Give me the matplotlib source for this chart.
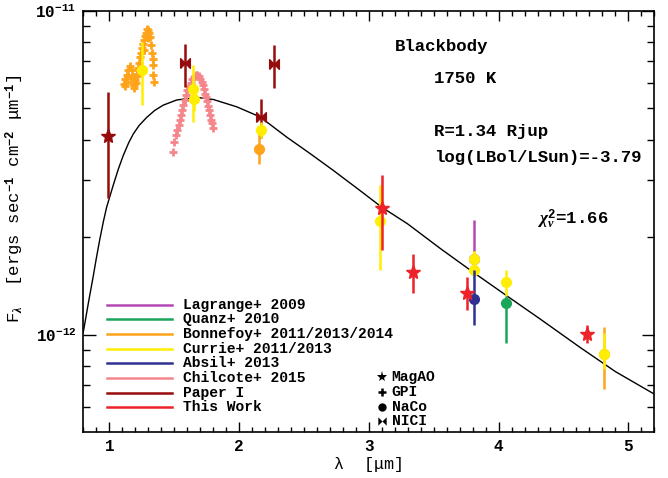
import numpy as np
import matplotlib.pyplot as plt
from matplotlib.path import Path
from matplotlib.ticker import MultipleLocator, FixedLocator, NullFormatter, FuncFormatter

plt.rcParams.update({
    "font.family": ["Liberation Mono", "DejaVu Sans"],
    "font.weight": "bold",
    "mathtext.fontset": "custom",
    "mathtext.rm": "Liberation Mono:bold",
    "mathtext.bf": "Liberation Mono:bold",
    "mathtext.it": "Liberation Serif:italic",
})

# all fluxes in units of 1e-12 ergs/s/cm^2/um
# blackbody curve
bb_wave = [0.80, 0.84, 0.877, 0.90, 0.928, 0.955, 0.98, 1.031, 1.07, 1.108, 1.15, 1.185, 1.23,
           1.288, 1.35, 1.416, 1.519, 1.674, 1.802, 1.982, 2.162, 2.367, 2.547, 2.726,
           2.932, 3.099, 3.3, 3.549, 3.805, 4.063, 4.319, 4.627, 4.9, 5.2]
bb_flux = [1.02, 1.26, 1.52, 1.72, 1.98, 2.24, 2.48, 2.90, 3.25, 3.58, 3.92, 4.17, 4.43,
           4.69, 4.93, 5.12, 5.31, 5.41, 5.33, 5.06, 4.71, 4.08, 3.63, 3.22,
           2.79, 2.48, 2.20, 1.85, 1.56, 1.32, 1.12, 0.915, 0.77, 0.656]

# Bonnefoy J-band spectrum (crosses)
bon_spec_wave = [1.113, 1.121, 1.134, 1.146, 1.160, 1.173, 1.185, 1.193, 1.200, 1.211, 1.219,
                 1.227, 1.234, 1.242, 1.250, 1.257, 1.265, 1.273, 1.281, 1.288, 1.296, 1.304,
                 1.311, 1.319, 1.327, 1.334, 1.339, 1.347,
                 1.12, 1.14, 1.165, 1.18, 1.19, 1.205, 1.215, 1.29, 1.30, 1.27, 1.335]
bon_spec_flux = [5.97, 6.15, 6.34, 6.58, 6.76, 6.58, 6.27, 5.90, 6.12, 6.41, 6.65,
                 6.92, 7.19, 7.43, 7.67, 7.91, 8.13, 8.38, 8.57, 8.77, 8.73, 8.57,
                 8.34, 7.85, 7.40, 6.81, 6.34, 6.04,
                 5.85, 6.05, 6.20, 5.95, 5.80, 6.00, 6.30, 8.45, 8.25, 7.60, 7.10]

# Chilcote H-band spectrum (crosses)
chil_wave = [1.493, 1.499, 1.514, 1.524, 1.535, 1.545, 1.553, 1.560, 1.570, 1.581, 1.591,
             1.601, 1.614, 1.627, 1.640, 1.653, 1.666, 1.678, 1.691, 1.701, 1.712, 1.720,
             1.728, 1.735, 1.743, 1.751, 1.758, 1.766, 1.774, 1.781, 1.789, 1.797]
chil_flux = [3.67, 3.94, 4.13, 4.29, 4.44, 4.60, 4.76, 4.94, 5.12, 5.31, 5.50,
             5.70, 5.86, 6.00, 6.15, 6.27, 6.34, 6.35, 6.30, 6.18, 6.03, 5.89,
             5.73, 5.56, 5.41, 5.26, 5.09, 4.94, 4.79, 4.62, 4.50, 4.34]

# photometry: wavelength, flux, lower end, upper end
bon_wave = [2.154, 4.815]
bon_flux = [3.76, 0.873]
bon_lo = [3.38, 0.681]
bon_hi = [4.30, 1.057]

lag_wave = [3.813]
lag_flux = [1.72]
lag_lo = [1.55]
lag_hi = [2.27]

cur_wave = [1.254, 1.647, 1.653, 2.169, 3.086, 3.813, 3.813, 4.055, 4.815]
cur_flux = [6.58, 5.73, 5.33, 4.29, 2.24, 1.71, 1.58, 1.46, 0.873]
cur_lo = [5.12, 4.55, 4.90, 4.05, 1.58, 1.52, 1.52, 1.32, 0.787]
cur_hi = [8.04, 6.81, 5.75, 4.55, 2.90, 1.82, 1.82, 1.58, 1.01]

abs_wave = [3.813]
abs_flux = [1.29]
abs_lo = [1.07]
abs_hi = [1.58]

qua_wave = [4.055]
qua_flux = [1.25]
qua_lo = [0.942]
qua_hi = [1.32]

p1_star_wave = [0.99]
p1_star_flux = [4.11]
p1_star_lo = [2.64]
p1_star_hi = [5.62]

p1_nici_wave = [1.583, 2.169, 2.269]
p1_nici_flux = [6.89, 4.71, 6.86]
p1_nici_lo = [5.81, 4.04, 5.79]
p1_nici_hi = [7.91, 5.34, 7.85]

tw_wave = [3.099, 3.343, 3.755, 4.682]
tw_flux = [2.47, 1.56, 1.35, 1.007]
tw_lo = [1.83, 1.35, 1.19, 0.942]
tw_hi = [3.11, 1.78, 1.51, 1.074]

y_major = [1e-12, 1e-11]
y_minor = [6e-13, 7e-13, 8e-13, 9e-13] + [k * 1e-12 for k in range(2, 10)]

legend_names = ['Lagrange+ 2009', 'Quanz+ 2010', 'Bonnefoy+ 2011/2013/2014', 'Currie+ 2011/2013',
                'Absil+ 2013', 'Chilcote+ 2015', 'Paper I', 'This Work']
c_lag, c_qua, c_bon, c_cur = '#b548b5', '#1aa55a', '#ffa31a', '#ffee00'
c_abs, c_chil, c_p1, c_tw = '#2e3192', '#f4868c', '#960c0c', '#ee2229'
legend_colors = [c_lag, c_qua, c_bon, c_cur, c_abs, c_chil, c_p1, c_tw]

inst_names = ['MagAO', 'GPI', 'NaCo', 'NICI']

bowtie = Path([(-1, -1), (-1, 1), (0, 0), (1, 1), (1, -1), (0, 0), (-1, -1)])
inst_markers = ['*', '+', 'o', bowtie]


def point(ax, w, f, lo, hi, color, marker, ms):
    f = np.array(f) * 1e-12
    lo = np.array(lo) * 1e-12
    hi = np.array(hi) * 1e-12
    ax.errorbar(w, f, yerr=[f - lo, hi - f], fmt='none', ecolor=color, elinewidth=1.8, capsize=0)
    ax.plot(w, f, linestyle='None', marker=marker, color=color, ms=ms, mec=color)


def pow10(v, pos):
    return r'$10^{%d}$' % int(round(np.log10(v)))


fig = plt.figure(figsize=(6.68, 4.78), dpi=100)
ax = fig.add_axes([0.1247, 0.0956, 0.8548, 0.8814])

ax.plot(bb_wave, np.array(bb_flux) * 1e-12, color='k', lw=1.0, zorder=1)

ax.plot(bon_spec_wave, np.array(bon_spec_flux) * 1e-12, linestyle='None', marker='+',
        ms=6, color=c_bon, mew=2)
ax.plot(chil_wave, np.array(chil_flux) * 1e-12, linestyle='None', marker='+',
        ms=6, color=c_chil, mew=2)

point(ax, bon_wave, bon_flux, bon_lo, bon_hi, c_bon, 'o', 7)
point(ax, lag_wave, lag_flux, lag_lo, lag_hi, c_lag, 'o', 7)
point(ax, p1_nici_wave, p1_nici_flux, p1_nici_lo, p1_nici_hi, c_p1, bowtie, 7)
point(ax, cur_wave, cur_flux, cur_lo, cur_hi, c_cur, 'o', 7)
point(ax, abs_wave, abs_flux, abs_lo, abs_hi, c_abs, 'o', 7)
point(ax, qua_wave, qua_flux, qua_lo, qua_hi, c_qua, 'o', 7)
point(ax, p1_star_wave, p1_star_flux, p1_star_lo, p1_star_hi, c_p1, '*', 10)
point(ax, tw_wave, tw_flux, tw_lo, tw_hi, c_tw, '*', 10)

ax.set_xlim(0.8, 5.2)
ax.set_yscale('log')
ax.set_ylim(5e-13, 1e-11)

ax.xaxis.set_major_locator(MultipleLocator(1))
ax.xaxis.set_minor_locator(MultipleLocator(0.1))
ax.yaxis.set_major_locator(FixedLocator(y_major))
ax.yaxis.set_major_formatter(FuncFormatter(pow10))
ax.yaxis.set_minor_locator(FixedLocator(y_minor))
ax.yaxis.set_minor_formatter(NullFormatter())
ax.tick_params(which='both', direction='in', top=True, right=True, width=1.0)
ax.tick_params(axis='x', which='major', length=7, pad=5, labelsize=11.5)
ax.tick_params(axis='x', which='minor', length=3.5)
ax.tick_params(axis='y', which='major', length=9, pad=5, labelsize=11.5)
ax.tick_params(axis='y', which='minor', length=5)
for s in ax.spines.values():
    s.set_linewidth(1.2)

ax.set_xlabel('λ  [μm]', fontsize=12, labelpad=2)
ax.set_ylabel(r'F$_\lambda$  [ergs sec$^{-1}$ cm$^{-2}$ μm$^{-1}$]', fontsize=12.5)
ax.yaxis.set_label_coords(-0.1, 0.554)

# text annotations
ax.text(0.546, 0.915, 'Blackbody', transform=ax.transAxes, fontsize=12.5, va='center')
ax.text(0.614, 0.840, '1750 K', transform=ax.transAxes, fontsize=12.5, va='center')
ax.text(0.614, 0.7135, 'R=1.34 Rjup', transform=ax.transAxes, fontsize=12.5, va='center')
ax.text(0.614, 0.652, 'log(LBol/LSun)=-3.79', transform=ax.transAxes, fontsize=12.5, va='center')
ax.text(0.794, 0.5056, r'$\chi^2_\nu$=1.66', transform=ax.transAxes, fontsize=12.5, va='center')

# reference legend
for i, (name, col) in enumerate(zip(legend_names, legend_colors)):
    yy = 0.3029 - i * 0.0348
    ax.plot([0.041, 0.155], [yy, yy], color=col, lw=1.8, transform=ax.transAxes)
    ax.text(0.174, yy, name, transform=ax.transAxes, fontsize=10.5, va='center')

# instrument legend
for i, (name, mk) in enumerate(zip(inst_names, inst_markers)):
    yy = 0.1305 - i * 0.0348
    ms = 8 if (isinstance(mk, str) and mk == '*') else 6
    mew = 1.8 if (isinstance(mk, str) and mk == '+') else 0
    ax.plot([0.5226], [yy], marker=mk, color='k', ms=ms, mew=mew, transform=ax.transAxes)
    ax.text(0.540, yy, name, transform=ax.transAxes, fontsize=10.5, va='center')

fig.savefig('out.png', dpi=100)
